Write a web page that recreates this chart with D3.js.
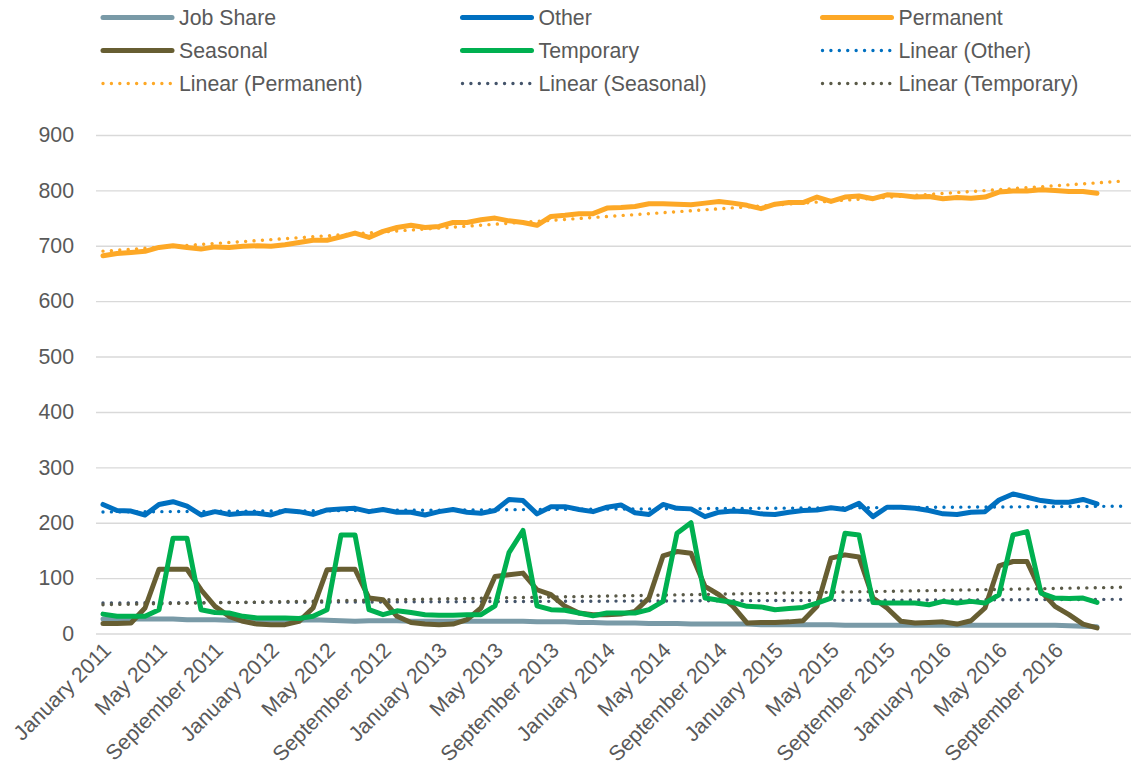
<!DOCTYPE html>
<html>
<head>
<meta charset="utf-8">
<script src="https://cdn.jsdelivr.net/npm/d3@7"></script>
<style>
  html, body { margin: 0; padding: 0; background: #ffffff; }
  svg { display: block; font-family: "Liberation Sans", Arial, sans-serif; }
</style>
</head>
<body>
<svg id="chart" width="1131" height="772"></svg>
<script>
// Monthly headcount by contract type, January 2011 – December 2016
const tickLabels = [
  "January 2011", "May 2011", "September 2011",
  "January 2012", "May 2012", "September 2012",
  "January 2013", "May 2013", "September 2013",
  "January 2014", "May 2014", "September 2014",
  "January 2015", "May 2015", "September 2015",
  "January 2016", "May 2016", "September 2016"
];
const yTicks = [0, 100, 200, 300, 400, 500, 600, 700, 800, 900];

const jobShare = [
  26, 26, 26, 26, 26, 26, 25, 25, 25, 24, 24, 24,
  24, 24, 24, 25, 24, 23, 22, 23, 23, 23, 22, 22,
  22, 22, 22, 22, 22, 22, 22, 21, 21, 21, 20, 20,
  19, 19, 19, 18, 18, 18, 17, 17, 17, 17, 17, 16,
  16, 16, 16, 16, 16, 15, 15, 15, 15, 15, 15, 15,
  15, 15, 15, 15, 15, 15, 15, 15, 15, 14, 13, 12
];
const other = [
  233, 222, 221, 214, 233, 238, 230, 214, 220, 215, 217, 217,
  214, 222, 220, 215, 223, 225, 226, 220, 224, 219, 219, 214,
  220, 224, 219, 217, 222, 242, 240, 216, 229, 229, 224, 220,
  228, 232, 218, 215, 233, 226, 225, 211, 219, 221, 220, 216,
  215, 219, 222, 223, 227, 224, 235, 211, 228, 228, 226, 222,
  216, 215, 219, 220, 241, 252, 246, 240, 237, 237, 242, 234
];
const permanent = [
  682, 686, 688, 690, 697, 700, 697, 694, 698, 697, 699, 700,
  699, 702, 706, 710, 710, 716, 723, 715, 726, 733, 737, 733,
  735, 742, 742, 747, 750, 745, 742, 737, 753, 755, 758, 758,
  768, 769, 771, 776, 776, 775, 774, 777, 780, 777, 773, 767,
  775, 778, 778, 788, 780, 788, 790, 785, 792, 791, 788, 789,
  785, 787, 786, 788, 797, 799, 799, 801, 800, 798, 798, 795
];
const seasonal = [
  18, 18, 19, 46, 116, 116, 116, 79, 49, 31, 22, 17,
  16, 16, 22, 46, 115, 116, 116, 64, 61, 31, 20, 17,
  16, 17, 25, 46, 103, 106, 109, 79, 70, 49, 37, 34,
  34, 35, 40, 64, 140, 148, 145, 85, 70, 49, 19, 20,
  20, 21, 23, 49, 136, 142, 138, 64, 46, 22, 19, 20,
  21, 17, 23, 46, 122, 130, 130, 76, 49, 34, 17, 10
];
const temporary = [
  35, 31, 31, 31, 43, 172, 172, 43, 38, 37, 31, 28,
  28, 28, 27, 31, 43, 178, 178, 43, 34, 41, 38, 34,
  33, 33, 34, 34, 50, 146, 186, 50, 43, 42, 37, 32,
  37, 37, 37, 43, 58, 181, 200, 64, 60, 56, 49, 48,
  43, 45, 47, 55, 64, 181, 178, 56, 55, 55, 55, 52,
  58, 55, 58, 55, 70, 178, 184, 73, 64, 63, 64, 56
];

const series = [
  { name: "Job Share", values: jobShare,  color: "#799AA7" },
  { name: "Other",     values: other,     color: "#0070C0" },
  { name: "Permanent", values: permanent, color: "#FDA826" },
  { name: "Seasonal",  values: seasonal,  color: "#675E32" },
  { name: "Temporary", values: temporary, color: "#00B050" }
];
const trends = [
  { name: "Linear (Other)",     values: other,     color: "#0070C0" },
  { name: "Linear (Permanent)", values: permanent, color: "#FDA826" },
  { name: "Linear (Seasonal)",  values: seasonal,  color: "#44546A" },
  { name: "Linear (Temporary)", values: temporary, color: "#5A5A48" }
];
const forecastPeriods = 2;
const nCats = jobShare.length + forecastPeriods;

// least-squares line through a monthly series
function linearFit(vals) {
  const mx = d3.mean(vals, (_, i) => i);
  const my = d3.mean(vals);
  let sxy = 0, sxx = 0;
  vals.forEach((v, i) => { sxy += (i - mx) * (v - my); sxx += (i - mx) * (i - mx); });
  const slope = sxy / sxx;
  return i => my + slope * (i - mx);
}

const svg = d3.select("#chart");
const textColor = "#595959";
const fontSize = 21.3;

const x = d3.scaleLinear().domain([-0.5, nCats - 0.5]).range([96, 1132]);
const y = d3.scaleLinear().domain([0, 900]).range([633.5, 135]);

// horizontal gridlines + value labels
const yAxis = svg.append("g")
  .attr("transform", "translate(96,0)")
  .call(d3.axisLeft(y).tickValues(yTicks).tickSize(-(1131 - 96)).tickPadding(22));
yAxis.select(".domain").remove();
yAxis.selectAll(".tick line").attr("stroke", "#D9D9D9").attr("stroke-width", 1.4);
yAxis.selectAll(".tick text")
  .attr("fill", textColor).attr("font-size", fontSize)
  .attr("font-family", "Liberation Sans, Arial, sans-serif");

// category labels, every fourth month, rotated
const tickIdx = tickLabels.map((_, k) => k * 4);
const xAxis = svg.append("g")
  .attr("transform", "translate(0,633.5)")
  .call(d3.axisBottom(x).tickValues(tickIdx).tickFormat((d, k) => tickLabels[k]).tickSize(0));
xAxis.select(".domain").remove();
xAxis.selectAll(".tick text")
  .attr("fill", textColor).attr("font-size", fontSize)
  .attr("font-family", "Liberation Sans, Arial, sans-serif")
  .attr("text-anchor", "end")
  .attr("y", 0).attr("dy", 0)
  .attr("transform", "translate(9,18) rotate(-45)");

// trendlines (drawn beneath the series)
const plot = svg.append("g");
trends.forEach(t => {
  const f = linearFit(t.values);
  const ends = [0, nCats - 1];
  plot.append("path")
    .datum(ends)
    .attr("d", d3.line().x(i => x(i)).y(i => y(f(i))))
    .attr("fill", "none")
    .attr("stroke", t.color)
    .attr("stroke-width", 3.4)
    .attr("stroke-linecap", "round")
    .attr("stroke-dasharray", "0.01 8.4");
});

// data series
const line = d3.line().x((d, i) => x(i)).y(d => y(d));
series.forEach(s => {
  plot.append("path")
    .datum(s.values)
    .attr("d", line)
    .attr("fill", "none")
    .attr("stroke", s.color)
    .attr("stroke-width", 5)
    .attr("stroke-linejoin", "round")
    .attr("stroke-linecap", "round");
});

// legend: 3 columns x 3 rows
const legendItems = [
  ...series.map(s => ({ name: s.name, color: s.color, dotted: false })),
  ...trends.map(t => ({ name: t.name, color: t.color, dotted: true }))
];
const colX = [102, 461.5, 821.5];
const rowY = [17.5, 50.5, 83.5];
const legend = svg.append("g");
legendItems.forEach((item, k) => {
  const cx = colX[k % 3], cy = rowY[Math.floor(k / 3)];
  const g = legend.append("g").attr("transform", `translate(${cx},${cy})`);
  g.append("line")
    .attr("x1", 1).attr("x2", 70).attr("y1", 0).attr("y2", 0)
    .attr("stroke", item.color)
    .attr("stroke-width", item.dotted ? 3.4 : 5)
    .attr("stroke-linecap", "round")
    .attr("stroke-dasharray", item.dotted ? "0.01 8.4" : null);
  g.append("text")
    .attr("x", 77).attr("y", 0).attr("dy", "0.35em")
    .attr("fill", textColor).attr("font-size", fontSize)
    .text(item.name);
});
</script>
</body>
</html>
